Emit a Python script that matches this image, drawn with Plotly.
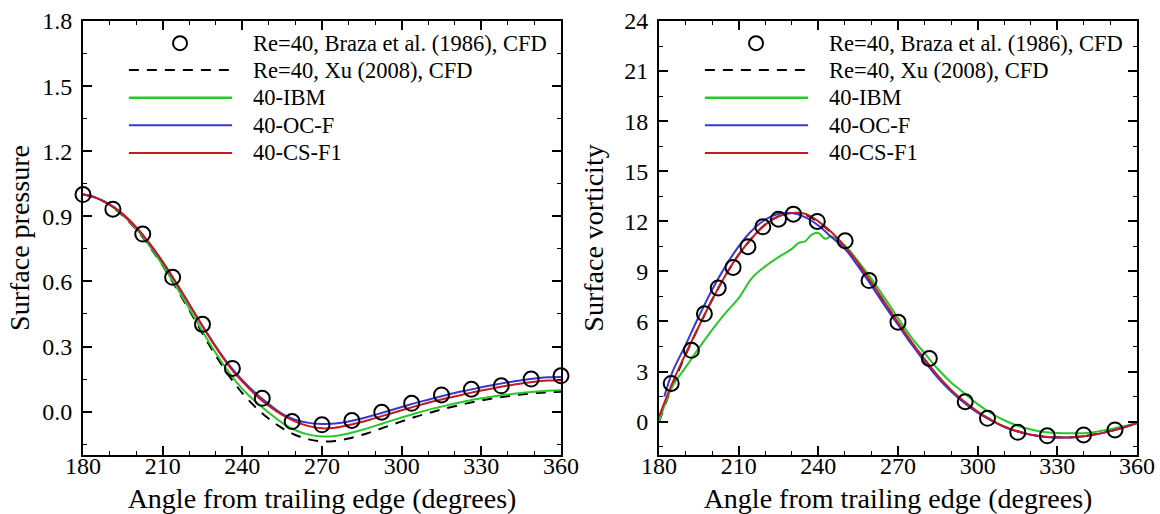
import plotly.graph_objects as go

# ---------------- data ----------------
ANGLES = [180, 185, 190, 195, 200, 205, 210, 215, 220, 225, 230, 235, 240, 245, 250,
          255, 260, 265, 270, 275, 280, 285, 290, 295, 300, 305, 310, 315, 320, 325,
          330, 335, 340, 345, 350, 355, 360]

# Surface pressure (left panel)
braza_p_x = [180, 191.25, 202.5, 213.75, 225, 236.25, 247.5, 258.75, 270, 281.25,
             292.5, 303.75, 315, 326.25, 337.5, 348.75, 360]
braza_p_y = [1.0, 0.933, 0.818, 0.619, 0.402, 0.199, 0.061, -0.046, -0.061, -0.041,
             -0.003, 0.038, 0.077, 0.103, 0.119, 0.150, 0.165]
xu_p = [1.000, 0.985, 0.952, 0.903, 0.840, 0.762, 0.672, 0.572, 0.468, 0.360, 0.258,
        0.165, 0.085, 0.020, -0.033, -0.076, -0.108, -0.128, -0.137, -0.135, -0.124,
        -0.108, -0.088, -0.066, -0.045, -0.025, -0.007, 0.010, 0.025, 0.039, 0.051,
        0.062, 0.071, 0.079, 0.085, 0.089, 0.091]
ibm_p = [1.000, 0.985, 0.952, 0.905, 0.843, 0.765, 0.675, 0.578, 0.475, 0.370, 0.270,
         0.180, 0.105, 0.045, -0.005, -0.052, -0.086, -0.106, -0.115, -0.112, -0.101,
         -0.085, -0.066, -0.046, -0.027, -0.009, 0.008, 0.023, 0.037, 0.050, 0.061,
         0.071, 0.079, 0.086, 0.092, 0.096, 0.098]
ocf_p = [1.000, 0.985, 0.955, 0.910, 0.850, 0.775, 0.690, 0.595, 0.495, 0.395, 0.300,
         0.215, 0.145, 0.085, 0.035, -0.010, -0.038, -0.052, -0.057, -0.055, -0.046,
         -0.032, -0.015, 0.003, 0.021, 0.039, 0.055, 0.071, 0.086, 0.099, 0.112,
         0.124, 0.135, 0.145, 0.153, 0.158, 0.160]
csf1_p = [1.000, 0.985, 0.955, 0.910, 0.850, 0.775, 0.690, 0.595, 0.495, 0.393, 0.297,
          0.210, 0.138, 0.077, 0.026, -0.015, -0.046, -0.067, -0.077, -0.074, -0.062,
          -0.048, -0.030, -0.012, 0.006, 0.024, 0.041, 0.056, 0.070, 0.084, 0.097,
          0.109, 0.120, 0.130, 0.138, 0.143, 0.145]

# Surface vorticity (right panel)
braza_w_x = [184.6, 192.2, 197.1, 202.3, 207.9, 213.5, 219.1, 225.0, 230.6, 239.6,
             250.1, 259.1, 270.0, 281.8, 295.3, 303.7, 315.1, 326.2, 339.9, 351.7]
braza_w_y = [2.29, 4.27, 6.46, 8.01, 9.24, 10.48, 11.67, 12.13, 12.43, 11.99,
             10.83, 8.45, 5.96, 3.78, 1.19, 0.20, -0.64, -0.85, -0.80, -0.50]
xu_w = [0.0, 2.15, 4.0, 5.7, 7.3, 8.75, 10.0, 11.0, 11.8, 12.3, 12.5, 12.4, 11.95,
        11.3, 10.45, 9.45, 8.3, 7.1, 5.9, 4.75, 3.7, 2.7, 1.85, 1.15, 0.57, 0.1, -0.3,
        -0.58, -0.78, -0.9, -0.94, -0.93, -0.86, -0.73, -0.55, -0.33, -0.08]
ibm_w_x = [180, 185, 190, 195, 200, 205, 210, 215, 220, 225, 230, 232.5, 235, 237.5,
           240, 242.5, 245, 247.5, 250, 255, 260, 265, 270, 275, 280, 285, 290, 295,
           300, 305, 310, 315, 320, 325, 330, 335, 340, 345, 350, 355, 360]
ibm_w = [0.0, 2.1, 3.25, 4.4, 5.5, 6.5, 7.4, 8.6, 9.3, 9.85, 10.35, 10.7, 10.8, 11.2,
         11.3, 10.95, 11.1, 10.75, 10.55, 9.6, 8.55, 7.4, 6.2, 5.05, 4.1, 3.15, 2.35,
         1.7, 1.05, 0.5, 0.08, -0.25, -0.47, -0.62, -0.68, -0.7, -0.69, -0.6, -0.45,
         -0.28, -0.08]
ocf_w_x = [182] + ANGLES[1:]
ocf_w = [1.5, 2.95, 4.6, 6.3, 7.9, 9.3, 10.5, 11.45, 12.1, 12.45, 12.5, 12.25, 11.75,
         11.05, 10.35, 9.3, 8.15, 6.95, 5.8, 4.65, 3.6, 2.62, 1.8, 1.12, 0.53, 0.07,
         -0.32, -0.6, -0.79, -0.9, -0.95, -0.95, -0.88, -0.75, -0.57, -0.35, -0.1]
csf1_w = [0.3, 2.3, 4.05, 5.7, 7.3, 8.75, 10.0, 11.0, 11.8, 12.3, 12.5, 12.45, 12.0,
          11.35, 10.5, 9.5, 8.35, 7.15, 5.95, 4.8, 3.75, 2.75, 1.9, 1.2, 0.6, 0.1, -0.3,
          -0.58, -0.78, -0.9, -0.95, -0.95, -0.88, -0.75, -0.57, -0.35, -0.1]

X_TICKS = [180, 210, 240, 270, 300, 330, 360]
P_TICKS = [0.0, 0.3, 0.6, 0.9, 1.2, 1.5, 1.8]
W_TICKS = [0, 3, 6, 9, 12, 15, 18, 21, 24]

LEGEND_NAMES = ["Re=40, Braza et al. (1986), CFD", "Re=40, Xu (2008), CFD",
                "40-IBM", "40-OC-F", "40-CS-F1"]

# ---------------- style ----------------
FONT = "Liberation Serif"
GREEN = "rgb(40,200,40)"
BLUE = "rgb(55,55,210)"
RED = "rgb(200,25,35)"
BLACK = "black"
DASH = "10px,8px"

fig = go.Figure()


def add_panel(xa, ya, bx, by, xu_x, xu_y, ibm_x, ibm_y, ocf_x, ocf_y, cs_x, cs_y):
    fig.add_trace(go.Scatter(x=xu_x, y=xu_y, mode="lines", xaxis=xa, yaxis=ya,
                             line=dict(color=BLACK, width=2, dash=DASH, shape="spline"),
                             showlegend=False))
    fig.add_trace(go.Scatter(x=ibm_x, y=ibm_y, mode="lines", xaxis=xa, yaxis=ya,
                             line=dict(color=GREEN, width=2, shape="spline"),
                             showlegend=False))
    fig.add_trace(go.Scatter(x=ocf_x, y=ocf_y, mode="lines", xaxis=xa, yaxis=ya,
                             line=dict(color=BLUE, width=2, shape="spline"),
                             showlegend=False))
    fig.add_trace(go.Scatter(x=cs_x, y=cs_y, mode="lines", xaxis=xa, yaxis=ya,
                             line=dict(color=RED, width=2, shape="spline"),
                             showlegend=False))
    fig.add_trace(go.Scatter(x=bx, y=by, mode="markers", xaxis=xa, yaxis=ya,
                             marker=dict(symbol="circle-open", size=15,
                                         color=BLACK, line=dict(width=2)),
                             showlegend=False, cliponaxis=False))


add_panel("x", "y", braza_p_x, braza_p_y, ANGLES, xu_p, ANGLES, ibm_p, ANGLES, ocf_p,
          ANGLES, csf1_p)
add_panel("x2", "y2", braza_w_x, braza_w_y, ANGLES, xu_w, ibm_w_x, ibm_w, ocf_w_x, ocf_w,
          ANGLES, csf1_w)

# ---------------- custom legends (inside each panel) ----------------
ROW_Y = [0.949, 0.887, 0.823, 0.760, 0.696]
LINE_X0, LINE_X1, SYM_X, TEXT_X = 0.096, 0.312, 0.203, 0.351
PANEL_W, PANEL_H = 478, 434
shapes = []
annotations = []
for xr, yr in [("x domain", "y domain"), ("x2 domain", "y2 domain")]:
    rx = 7.0 / PANEL_W
    ry = 7.0 / PANEL_H
    shapes.append(dict(type="circle", xref=xr, yref=yr,
                       x0=SYM_X - rx, x1=SYM_X + rx, y0=ROW_Y[0] - ry, y1=ROW_Y[0] + ry,
                       line=dict(color=BLACK, width=2)))
    styles = [dict(color=BLACK, width=2, dash=DASH), dict(color=GREEN, width=2.5),
              dict(color=BLUE, width=2), dict(color=RED, width=2)]
    for i, st in enumerate(styles):
        yy = ROW_Y[i + 1]
        shapes.append(dict(type="line", xref=xr, yref=yr, x0=LINE_X0, x1=LINE_X1,
                           y0=yy, y1=yy, line=st))
    for i, name in enumerate(LEGEND_NAMES):
        annotations.append(dict(text=name, xref=xr, yref=yr, x=TEXT_X, y=ROW_Y[i],
                                xanchor="left", yanchor="middle", showarrow=False,
                                font=dict(family=FONT, size=22.5, color=BLACK)))

axis_common = dict(showline=True, linecolor=BLACK, linewidth=2, mirror="ticks",
                   ticks="inside", ticklen=9, tickwidth=2, tickcolor=BLACK,
                   showgrid=False, zeroline=False, automargin=False,
                   tickfont=dict(family=FONT, size=24, color=BLACK))

fig.update_layout(
    width=1160, height=514,
    margin=dict(l=83, r=23, t=21, b=59),
    paper_bgcolor="white", plot_bgcolor="white",
    showlegend=False,
    shapes=shapes, annotations=annotations,
    xaxis=dict(domain=[0, 478 / 1054], range=[180, 360], tickvals=X_TICKS,
               ticklabelstandoff=-12,
               minor=dict(dtick=10, ticklen=4, tickwidth=1, ticks="inside",
                          tickcolor=BLACK),
               title=dict(text="Angle from trailing edge (degrees)",
                          font=dict(family=FONT, size=28, color=BLACK), standoff=12),
               anchor="y", **axis_common),
    yaxis=dict(domain=[0, 1], range=[-0.2, 1.8], tickvals=P_TICKS, tickformat=".1f",
               ticklabelstandoff=4,
               minor=dict(dtick=0.15, tick0=0, ticklen=4, tickwidth=1, ticks="inside",
                          tickcolor=BLACK),
               title=dict(text="Surface pressure",
                          font=dict(family=FONT, size=28, color=BLACK), standoff=4),
               anchor="x", **axis_common),
    xaxis2=dict(domain=[576 / 1054, 1], range=[180, 360], tickvals=X_TICKS,
                ticklabelstandoff=-12,
                minor=dict(dtick=10, ticklen=4, tickwidth=1, ticks="inside",
                           tickcolor=BLACK),
                title=dict(text="Angle from trailing edge (degrees)",
                           font=dict(family=FONT, size=28, color=BLACK), standoff=12),
                anchor="y2", **axis_common),
    yaxis2=dict(domain=[0, 1], range=[-2, 24], tickvals=W_TICKS,
                ticklabelstandoff=4,
                minor=dict(dtick=1.5, tick0=0, ticklen=4, tickwidth=1, ticks="inside",
                           tickcolor=BLACK),
                title=dict(text="Surface vorticity",
                           font=dict(family=FONT, size=28, color=BLACK), standoff=12),
                anchor="x2", **axis_common),
)

fig.write_html("out.html", config={"displayModeBar": False},
               post_script="document.body.style.margin='0';")
